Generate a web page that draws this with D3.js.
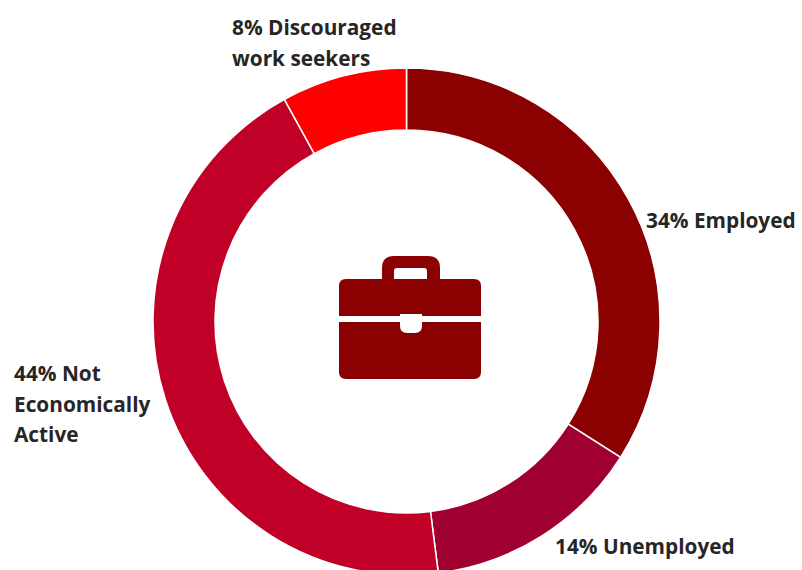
<!DOCTYPE html>
<html>
<head>
<meta charset="utf-8">
<script src="https://cdn.jsdelivr.net/npm/d3@7/dist/d3.min.js"></script>
<style>
html,body{margin:0;padding:0;background:#fff;overflow:hidden}
svg{display:block}
text{font-family:"Open Sans",Lato,sans-serif;font-weight:700;font-size:20.8px;fill:#262626}
</style>
</head>
<body>
<div id="chart"></div>
<script>
// Labour market status shares, clockwise from twelve o'clock
const categories = ["Employed", "Unemployed", "Not Economically Active", "Discouraged work seekers"];
const shares = [34, 14, 44, 8];
const sliceColors = ["#8b0000", "#a00030", "#c00026", "#ff0000"];
const labelLines = [
  ["34% Employed"],
  ["14% Unemployed"],
  ["44% Not", "Economically", "Active"],
  ["8% Discouraged", "work seekers"]
];
const labelAnchors = [[646, 228], [555, 554], [14, 381], [232, 35]];
const lineStep = 30.5;

const width = 802, height = 570;
const cx = 406.5, cy = 321.5, outerR = 253.5, innerR = 191.5;

const svg = d3.select("#chart").append("svg")
  .attr("width", width).attr("height", height);

const pie = d3.pie().sort(null).value(d => d);
const arc = d3.arc().innerRadius(innerR).outerRadius(outerR);

svg.append("g").attr("transform", `translate(${cx},${cy})`)
  .selectAll("path").data(pie(shares)).join("path")
  .attr("d", arc)
  .attr("fill", (d, i) => sliceColors[i])
  .attr("stroke", "#fff")
  .attr("stroke-width", 1.5)
  .append("title").text((d, i) => categories[i]);

// Text labels beside the ring
svg.append("g").selectAll("text").data(labelLines).join("text")
  .attr("x", (d, i) => labelAnchors[i][0])
  .attr("y", (d, i) => labelAnchors[i][1])
  .each(function (lines, i) {
    d3.select(this).selectAll("tspan").data(lines).join("tspan")
      .attr("x", labelAnchors[i][0])
      .attr("dy", (l, j) => j ? lineStep : 0)
      .text(l => l);
  });

// Briefcase pictogram in the hole of the ring
const icon = svg.append("g").attr("transform", "translate(339,256)");
icon.append("path").attr("fill", "#8b0000")
  .attr("d", "M43 24 V12 Q43 0 55 0 H89 Q101 0 101 12 V24 H88 V15 Q88 12 85 12 H58 Q55 12 55 15 V24 Z");
icon.append("path").attr("fill", "#8b0000")
  .attr("d", "M7 23 H135 Q142 23 142 30 V60 H0 V30 Q0 23 7 23 Z");
icon.append("path").attr("fill", "#8b0000")
  .attr("d", "M0 66 H142 V116 Q142 123 135 123 H7 Q0 123 0 116 Z");
icon.append("path").attr("fill", "#fff")
  .attr("d", "M61 58 H83 V70 Q83 77 76 77 H68 Q61 77 61 70 Z");
</script>
</body>
</html>
